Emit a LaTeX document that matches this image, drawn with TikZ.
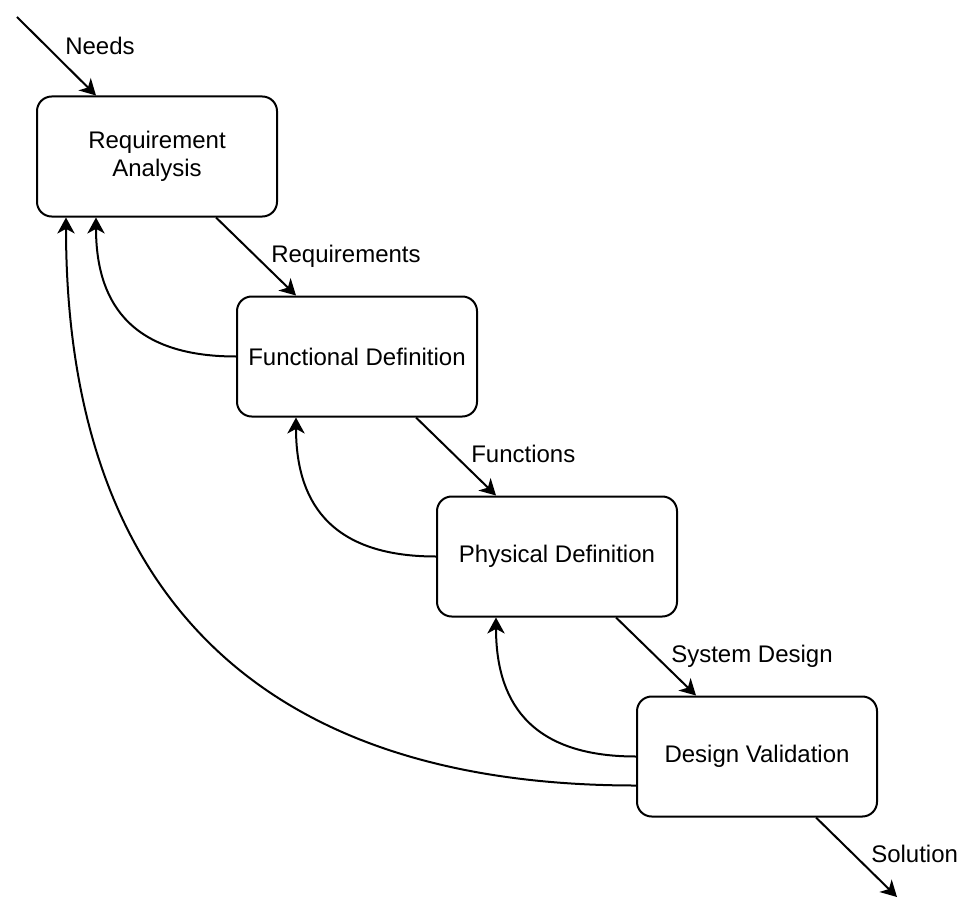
\documentclass[tikz,border=0pt]{standalone}
\usepackage{fontspec}
\setmainfont{Liberation Sans}
\usetikzlibrary{arrows.meta,calc}

\begin{document}
\begin{tikzpicture}[x=0.75pt,y=0.75pt,yscale=-1,xscale=1,
  box/.style={draw, line width=1.5pt, rounded corners=11pt, minimum width=180pt, minimum height=90pt, align=center, inner sep=0pt, font=\fontsize{18}{21}\selectfont},
  flow/.style={line width=1.5pt, -{Stealth[length=12pt,width=13pt,inset=3.5pt]}},
  lbl/.style={anchor=base west, inner sep=0pt, font=\fontsize{18}{21}\selectfont}]
\useasboundingbox (0,0) rectangle (962,916);

%Shape: Rounded Rect
\node [box] (ra) at (157,156.5) {Requirement\\Analysis};
%Shape: Rounded Rect
\node [box] (fd) at (357,356.5) {Functional Definition};
%Shape: Rounded Rect
\node [box] (pd) at (557,556.5) {Physical Definition};
%Shape: Rounded Rect
\node [box] (dv) at (757,756.5) {Design Validation};

%free ends
\coordinate (needs) at (17,17);
\coordinate (sol) at (897,897);

%Straight Lines
\draw [flow] (needs) -- ($(ra.north west)+(60,0)$);
%Straight Lines
\draw [flow] ($(ra.south west)+(180,0)$) -- ($(fd.north west)+(60,0)$);
%Straight Lines
\draw [flow] ($(fd.south west)+(180,0)$) -- ($(pd.north west)+(60,0)$);
%Straight Lines
\draw [flow] ($(pd.south west)+(180,0)$) -- ($(dv.north west)+(60,0)$);
%Straight Lines
\draw [flow] ($(dv.south west)+(180,0)$) -- (sol);

%Curve Lines
\draw [flow] (fd.west) .. controls +(-110,0) and +(0,80) .. ($(ra.south west)+(60,0)$);
%Curve Lines
\draw [flow] (pd.west) .. controls +(-110,0) and +(0,80) .. ($(fd.south west)+(60,0)$);
%Curve Lines
\draw [flow] (dv.west) .. controls +(-110,0) and +(0,80) .. ($(pd.south west)+(60,0)$);
%Curve Lines
\draw [flow] ($(dv.north west)+(0,90)$) .. controls +(-407,0) and +(0,344) .. ($(ra.south west)+(30,0)$);

% Text Node
\node [lbl] (tneeds) at (65,55) {Needs};
% Text Node
\node [lbl] (treq) at (271,262) {Requirements};
% Text Node
\node [lbl] (tfun) at (471,462) {Functions};
% Text Node
\node [lbl] (tsys) at (671,662) {System Design};
% Text Node
\node [lbl] (tsol) at (871,862) {Solution};

\end{tikzpicture}
\end{document}
